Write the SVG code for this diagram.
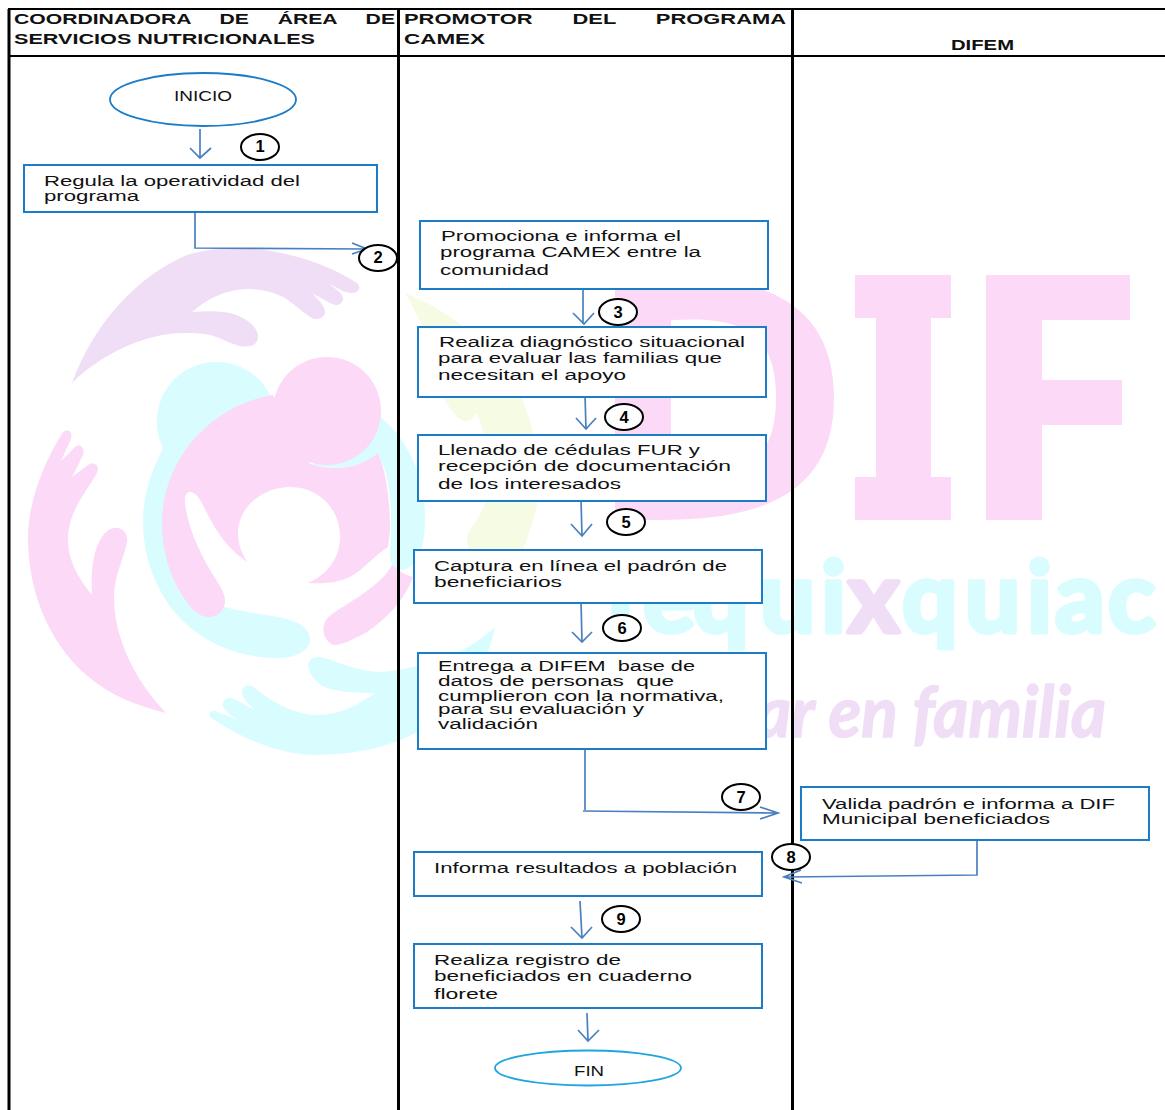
<svg xmlns="http://www.w3.org/2000/svg" width="1165" height="1110" viewBox="0 0 1165 1110">
<defs>
<style>
.t{font-family:"Liberation Sans",Arial,sans-serif;font-size:15.5px;fill:#111}
.h{font-family:"Liberation Sans",Arial,sans-serif;font-size:15.5px;font-weight:700;fill:#111;word-spacing:16.8px}
.n{font-family:"Liberation Sans",Arial,sans-serif;font-size:16.5px;font-weight:700;fill:#000;text-anchor:middle}
.b{fill:#fff;stroke:#1B7CC8;stroke-width:2}
.c{fill:#fff;stroke:#000;stroke-width:2}
.a{fill:none;stroke:#4A80C0;stroke-width:1.7}
.l{stroke:#000;fill:none}
</style>
</defs>
<rect width="1165" height="1110" fill="#fff"/>
<g id="watermark">
<path fill="#F6FCE4" d="M405,293C450,310 490,345 515,385C535,420 540,460 537,505C532,525 527,540 522,552L470,552C466,542 466,535 470,530C480,515 490,500 490,480C490,455 484,430 476,412C470,430 455,420 445,400C435,360 425,325 405,293Z"/>
<path fill="#F0DEF6" d="M72,383C95,320 140,275 187,255C210,248 230,248 250,249C285,250 330,265 357,283C361,287 360,291 354,293C345,294 338,288 328,283C337,290 344,294 343,300C341,306 335,306 330,303L312,293C320,301 326,308 325,313C323,320 315,320 310,317C300,310 292,302 283,297C270,291 258,289 247,289C228,289 208,298 192,312C205,311 220,311 230,313C245,317 256,325 258,335C259,345 250,348 240,346C230,344 222,338 210,335C200,333 192,333 183,333C145,333 100,355 72,383Z"/>
<path fill="#FCD9F7" d="M166,713C135,705 110,695 90,678C55,650 28,600 28,537C28,505 42,465 63,432C68,428 73,432 71,439L61,461L76,446C81,443 85,449 83,455L72,477L88,465C95,461 100,466 97,473C88,490 68,510 68,540C68,560 78,578 92,595C91,575 92,555 100,540C106,530 112,527 118,528C125,529 128,536 127,542C125,555 117,570 115,585C110,620 125,670 166,713Z"/>
<path fill="#D9FDFF" d="M163,448A58,58 0 1 1 270,395L200,440C175,470 165,500 170,540C178,580 195,600 225,607C245,613 270,614 290,620C305,625 311,632 310,642C306,654 292,658 277,658C225,658 180,630 160,590C148,568 143,545 143,520C143,495 152,470 163,448Z"/>
<path fill="#D9FDFF" d="M380,417C410,440 425,480 425,517C425,545 420,565 403,570C395,570 390,565 390,555C392,510 392,480 378,453C360,470 330,470 310,464C340,462 370,445 380,417Z"/>
<path fill="#FCD9F7" d="M273,395L310,464C335,472 360,468 378,453C388,475 390,510 390,530L388,547C375,555 365,568 350,577C337,583 322,584 308,583C325,576 340,560 340,537C340,508 318,487 290,487C262,487 238,508 238,533C238,545 242,553 247,562C230,550 218,535 208,515C202,503 197,492 190,492C184,493 184,500 186,510C190,530 197,547 210,570C218,583 226,593 225,603C223,612 217,617 210,617C197,617 190,607 180,592C168,572 162,548 162,523C162,460 210,405 273,395Z"/>
<circle cx="327" cy="411" r="54" fill="#FCD9F7"/>
<path fill="#FCD9F7" d="M392,565C385,578 375,585 360,596C345,606 332,612 326,620C321,628 323,640 333,645C342,646 355,638 367,632C385,620 405,600 413,577C405,575 398,570 392,565Z"/>
<path fill="#D9FDFF" d="M308,664C310,657 318,656 325,658C345,665 362,672 383,672C440,665 470,650 495,627C480,700 420,755 315,755C280,755 240,738 210,717C208,712 212,709 218,712L238,720C230,715 222,710 223,703C225,697 230,697 236,700L255,710C248,704 241,697 242,690C245,684 250,684 255,688C270,700 290,714 317,715C340,715 358,705 375,693C355,693 335,692 322,686C314,680 308,672 308,664Z"/>
<path fill="#FCD9F7" fill-rule="evenodd" d="M615,275H660C760,275 834,300 834,398C834,495 760,520 660,520H615ZM671,320V476C740,480 776,465 776,398C776,330 740,316 671,320Z"/>
<path fill="#FCD9F7" d="M855,275H951V318H931V477H951V520H855V477H876V318H855Z"/>
<path fill="#FCD9F7" d="M986,275H1130V320H1042V380H1122V425H1042V520H986Z"/>
<text x="591 643 693 760 821 848 902 965 1027 1055 1108" y="632" font-family="Lato,sans-serif" font-weight="700" font-size="98" fill="#D9FDFF" stroke="#D9FDFF" stroke-width="5" stroke-linejoin="round">Tequi<tspan fill="#F0DEF6" stroke="#F0DEF6">x</tspan>quiac</text>
<text x="756" y="737" font-family="Lato,sans-serif" font-style="italic" font-weight="700" font-size="70" textLength="350" lengthAdjust="spacingAndGlyphs" fill="#F0DEF6" stroke="#F0DEF6" stroke-width="1.500">ar en familia</text>
</g>
<g id="lanes">
<path class="l" stroke-width="2" d="M8,9H1165M8,56H1165"/>
<path class="l" stroke-width="3" d="M9,9V1110M398.500,9V1110M792.500,9V1110"/>
<text class="h" x="14" y="24" textLength="381" lengthAdjust="spacingAndGlyphs">COORDINADORA DE ÁREA DE</text>
<text class="h" x="14" y="44" textLength="301" lengthAdjust="spacingAndGlyphs" style="word-spacing:0">SERVICIOS NUTRICIONALES</text>
<text class="h" x="404" y="24" textLength="382" lengthAdjust="spacingAndGlyphs" style="word-spacing:24px">PROMOTOR DEL PROGRAMA</text>
<text class="h" x="404" y="44" textLength="81" lengthAdjust="spacingAndGlyphs">CAMEX</text>
<text class="h" x="951" y="50" textLength="63" lengthAdjust="spacingAndGlyphs">DIFEM</text>
</g>
<g id="connectors">
<path class="a" d="M200,129V158M190,148L200,158L211,148"/>
<path class="a" d="M195,211V248L366,249M352,243L367,249L352,254"/>
<path class="a" d="M583,289V324M573,313L584,324L594,313"/>
<path class="a" d="M585,395L586,429M576,418L586,429L596,418"/>
<path class="a" d="M581,499L582,536M571,524L582,536L592,524"/>
<path class="a" d="M581,601L582,642M572,632L582,642L592,632"/>
<path class="a" d="M585,749V810M583,811L777,813M760,807L778,813L760,819"/>
<path class="a" d="M977,840V875L786,877M801,870L784,877L802,883"/>
<path class="a" d="M580,901L582,938M571,927L582,938L592,927"/>
<path class="a" d="M587,1013L588,1041M578,1030L588,1041L599,1030"/>
</g>
<g id="inicio"><ellipse cx="203" cy="99.500" rx="93" ry="26.500" fill="none" stroke="#1B7CC8" stroke-width="1.800"/><text class="t" x="174" y="101" textLength="58" lengthAdjust="spacingAndGlyphs">INICIO</text></g>
<g id="paso1"><rect class="b" x="24" y="165" width="353" height="47"/><text class="t" x="44" y="186" textLength="256" lengthAdjust="spacingAndGlyphs">Regula la operatividad del</text><text class="t" x="44" y="201" textLength="95" lengthAdjust="spacingAndGlyphs">programa</text></g>
<g id="paso2"><rect class="b" x="420" y="221" width="348" height="68"/><text class="t" x="441" y="241" textLength="240" lengthAdjust="spacingAndGlyphs">Promociona e informa el</text><text class="t" x="440" y="257" textLength="261" lengthAdjust="spacingAndGlyphs">programa CAMEX entre la</text><text class="t" x="440" y="275" textLength="109" lengthAdjust="spacingAndGlyphs">comunidad</text></g>
<g id="paso3"><rect class="b" x="418" y="327" width="348" height="70"/><text class="t" x="439" y="347" textLength="306" lengthAdjust="spacingAndGlyphs">Realiza diagnóstico situacional</text><text class="t" x="438" y="363" textLength="284" lengthAdjust="spacingAndGlyphs">para evaluar las familias que</text><text class="t" x="438" y="380" textLength="188" lengthAdjust="spacingAndGlyphs">necesitan el apoyo</text></g>
<g id="paso4"><rect class="b" x="418" y="435" width="348" height="66"/><text class="t" x="438" y="455" textLength="262" lengthAdjust="spacingAndGlyphs">Llenado de cédulas FUR y</text><text class="t" x="438" y="471" textLength="293" lengthAdjust="spacingAndGlyphs">recepción de documentación</text><text class="t" x="438" y="489" textLength="183" lengthAdjust="spacingAndGlyphs">de los interesados</text></g>
<g id="paso5"><rect class="b" x="414" y="550" width="348" height="53"/><text class="t" x="434" y="571" textLength="293" lengthAdjust="spacingAndGlyphs">Captura en línea el padrón de</text><text class="t" x="434" y="587" textLength="128" lengthAdjust="spacingAndGlyphs">beneficiarios</text></g>
<g id="paso6"><rect class="b" x="418" y="653" width="348" height="96"/><text class="t" x="438" y="671" textLength="257" lengthAdjust="spacingAndGlyphs" xml:space="preserve">Entrega a DIFEM  base de</text><text class="t" x="438" y="686" textLength="236" lengthAdjust="spacingAndGlyphs" xml:space="preserve">datos de personas  que</text><text class="t" x="438" y="701" textLength="286" lengthAdjust="spacingAndGlyphs">cumplieron con la normativa,</text><text class="t" x="438" y="714" textLength="206" lengthAdjust="spacingAndGlyphs">para su evaluación y</text><text class="t" x="438" y="729" textLength="100" lengthAdjust="spacingAndGlyphs">validación</text></g>
<g id="paso7"><rect class="b" x="801" y="787" width="348" height="53"/><text class="t" x="822" y="809" textLength="293" lengthAdjust="spacingAndGlyphs">Valida padrón e informa a DIF</text><text class="t" x="822" y="824" textLength="228" lengthAdjust="spacingAndGlyphs">Municipal beneficiados</text></g>
<g id="paso8"><rect class="b" x="414" y="852" width="348" height="44"/><text class="t" x="434" y="873" textLength="303" lengthAdjust="spacingAndGlyphs">Informa resultados a población</text></g>
<g id="paso9"><rect class="b" x="414" y="944" width="348" height="64"/><text class="t" x="434" y="965" textLength="187" lengthAdjust="spacingAndGlyphs">Realiza registro de</text><text class="t" x="434" y="981" textLength="258" lengthAdjust="spacingAndGlyphs">beneficiados en cuaderno</text><text class="t" x="434" y="999" textLength="64" lengthAdjust="spacingAndGlyphs">florete</text></g>
<g id="fin"><ellipse cx="588" cy="1068" rx="93" ry="17.500" fill="#fff" stroke="#1FA5E0" stroke-width="1.800"/><text class="t" x="574" y="1076" textLength="30" lengthAdjust="spacingAndGlyphs">FIN</text></g>
<g id="n1"><ellipse class="c" cx="260" cy="147" rx="19" ry="13"/><text class="n" x="260" y="152">1</text></g>
<g id="n2"><ellipse class="c" cx="378" cy="258" rx="19" ry="13"/><text class="n" x="378" y="263">2</text></g>
<g id="n3"><ellipse class="c" cx="618" cy="312" rx="19" ry="13"/><text class="n" x="618" y="318">3</text></g>
<g id="n4"><ellipse class="c" cx="624" cy="417" rx="19" ry="13"/><text class="n" x="624" y="423">4</text></g>
<g id="n5"><ellipse class="c" cx="626" cy="522" rx="19" ry="13"/><text class="n" x="626" y="528">5</text></g>
<g id="n6"><ellipse class="c" cx="622" cy="628" rx="19" ry="13"/><text class="n" x="622" y="634">6</text></g>
<g id="n7"><ellipse class="c" cx="741" cy="797" rx="19" ry="13"/><text class="n" x="741" y="803">7</text></g>
<g id="n8"><ellipse class="c" cx="791" cy="857" rx="19" ry="13"/><text class="n" x="791" y="863">8</text></g>
<g id="n9"><ellipse class="c" cx="621" cy="919" rx="19" ry="13"/><text class="n" x="621" y="925">9</text></g>
</svg>
